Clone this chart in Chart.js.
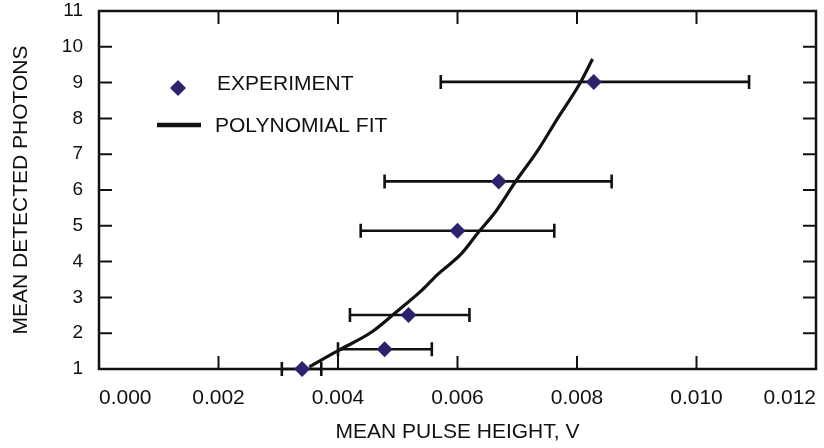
<!DOCTYPE html>
<html>
<head>
<meta charset="utf-8">
<script src="https://cdn.jsdelivr.net/npm/chart.js@4.4.1/dist/chart.umd.min.js"></script>
<style>
  html, body { margin: 0; padding: 0; background: #fff; }
  #wrap { width: 824px; height: 448px; }
</style>
</head>
<body>
<div id="wrap"><canvas id="chart" width="824" height="448"></canvas></div>
<script>
// experiment points: mean pulse height (V) vs mean detected photons
const pulseHeight = [0.00340, 0.00478, 0.00518, 0.00600, 0.00669, 0.00828];
const photons     = [1.00, 1.55, 2.51, 4.86, 6.24, 9.02];
const errLow      = [0.00306, 0.00400, 0.00420, 0.00438, 0.00478, 0.00572];
const errHigh     = [0.00372, 0.00557, 0.00620, 0.00762, 0.00858, 0.01088];

// polynomial fit curve
const fitX = [0.00352, 0.00374, 0.00402, 0.00457, 0.00496, 0.00541, 0.00566, 0.00607, 0.00634, 0.00663, 0.00697, 0.00735, 0.00766, 0.00805, 0.00826];
const fitY = [1.06, 1.27, 1.53, 2.04, 2.57, 3.21, 3.63, 4.23, 4.80, 5.38, 6.23, 7.12, 7.96, 8.98, 9.66];

const xRange = [0, 0.012, 0.002];
const yRange = [1, 11, 1];

const labels = ['EXPERIMENT', 'POLYNOMIAL FIT'];
const axisTitles = ['MEAN PULSE HEIGHT, V', 'MEAN DETECTED PHOTONS'];

const INK = '#111';
const NAVY = '#2b236e';
const FONT = '"Liberation Sans", Arial, Helvetica, sans-serif';

const frame = {
  id: 'frame',
  beforeDatasetsDraw(chart) {
    const { ctx, chartArea: a, scales: { x, y } } = chart;
    ctx.save();
    ctx.strokeStyle = INK;

    // horizontal error bars
    ctx.lineWidth = 2.6;
    pulseHeight.forEach((_, i) => {
      const py = y.getPixelForValue(photons[i]);
      const x0 = x.getPixelForValue(errLow[i]);
      const x1 = x.getPixelForValue(errHigh[i]);
      ctx.beginPath();
      ctx.moveTo(x0, py); ctx.lineTo(x1, py);
      ctx.moveTo(x0, py - 7); ctx.lineTo(x0, py + 7);
      ctx.moveTo(x1, py - 7); ctx.lineTo(x1, py + 7);
      ctx.stroke();
    });

    // box
    ctx.lineWidth = 2.5;
    ctx.strokeRect(a.left, a.top, a.right - a.left, a.bottom - a.top);

    // inward tick marks on all four sides
    const tl = 13;
    ctx.lineWidth = 2;
    ctx.beginPath();
    x.ticks.forEach(t => {
      const px = x.getPixelForValue(t.value);
      ctx.moveTo(px, a.bottom); ctx.lineTo(px, a.bottom - tl);
      ctx.moveTo(px, a.top); ctx.lineTo(px, a.top + tl);
    });
    y.ticks.forEach(t => {
      const py = y.getPixelForValue(t.value);
      ctx.moveTo(a.left, py); ctx.lineTo(a.left + tl, py);
      ctx.moveTo(a.right, py); ctx.lineTo(a.right - tl, py);
    });
    ctx.stroke();
    ctx.restore();
  },
  afterDraw(chart) {
    const { ctx } = chart;
    ctx.save();
    // legend: diamond
    ctx.fillStyle = NAVY;
    ctx.beginPath();
    ctx.moveTo(178, 80); ctx.lineTo(186, 88); ctx.lineTo(178, 96); ctx.lineTo(170, 88);
    ctx.closePath();
    ctx.fill();
    // legend: line
    ctx.strokeStyle = INK;
    ctx.lineWidth = 4.5;
    ctx.beginPath();
    ctx.moveTo(157, 125); ctx.lineTo(201, 125);
    ctx.stroke();
    ctx.fillStyle = INK;
    ctx.font = '21px ' + FONT;
    ctx.textBaseline = 'alphabetic';
    ctx.fillText(labels[0], 217, 90);
    ctx.fillText(labels[1], 215, 132);
    ctx.restore();
  }
};

new Chart(document.getElementById('chart'), {
  type: 'scatter',
  data: {
    datasets: [
      {
        label: labels[0],
        data: pulseHeight.map((v, i) => ({ x: v, y: photons[i] })),
        pointStyle: 'rectRot',
        pointRadius: 8,
        pointBackgroundColor: NAVY,
        pointBorderWidth: 0,
        showLine: false,
        clip: false
      },
      {
        label: labels[1],
        type: 'line',
        data: fitX.map((v, i) => ({ x: v, y: fitY[i] })),
        borderColor: INK,
        borderWidth: 3.2,
        pointRadius: 0,
        cubicInterpolationMode: 'monotone',
        fill: false,
        clip: false
      }
    ]
  },
  options: {
    responsive: false,
    animation: false,
    layout: { padding: { top: 11, right: 6, left: 0, bottom: 0 } },
    plugins: { legend: { display: false }, tooltip: { enabled: false } },
    scales: {
      x: {
        type: 'linear',
        min: xRange[0], max: xRange[1],
        afterFit: s => { s.height = 79; },
        grid: { display: false, drawTicks: true, tickLength: 17 },
        border: { display: false },
        ticks: {
          stepSize: xRange[2], align: 'inner', padding: 0,
          color: INK, font: { family: FONT, size: 21 },
          callback: v => v.toFixed(3)
        },
        title: {
          display: true, text: axisTitles[0], color: INK,
          font: { family: FONT, size: 21 }, padding: { top: 0, bottom: 3 }
        }
      },
      y: {
        type: 'linear',
        min: yRange[0], max: yRange[1],
        afterFit: s => { s.width = 99; },
        grid: { display: false, drawTicks: true, tickLength: 16 },
        border: { display: false },
        ticks: {
          stepSize: yRange[2], padding: 0,
          color: INK, font: { family: FONT, size: 19, lineHeight: 1 }
        },
        title: {
          display: true, text: axisTitles[1], color: INK,
          font: { family: FONT, size: 21 }, padding: { top: 9, bottom: 0 }
        }
      }
    }
  },
  plugins: [frame]
});
</script>
</body>
</html>
